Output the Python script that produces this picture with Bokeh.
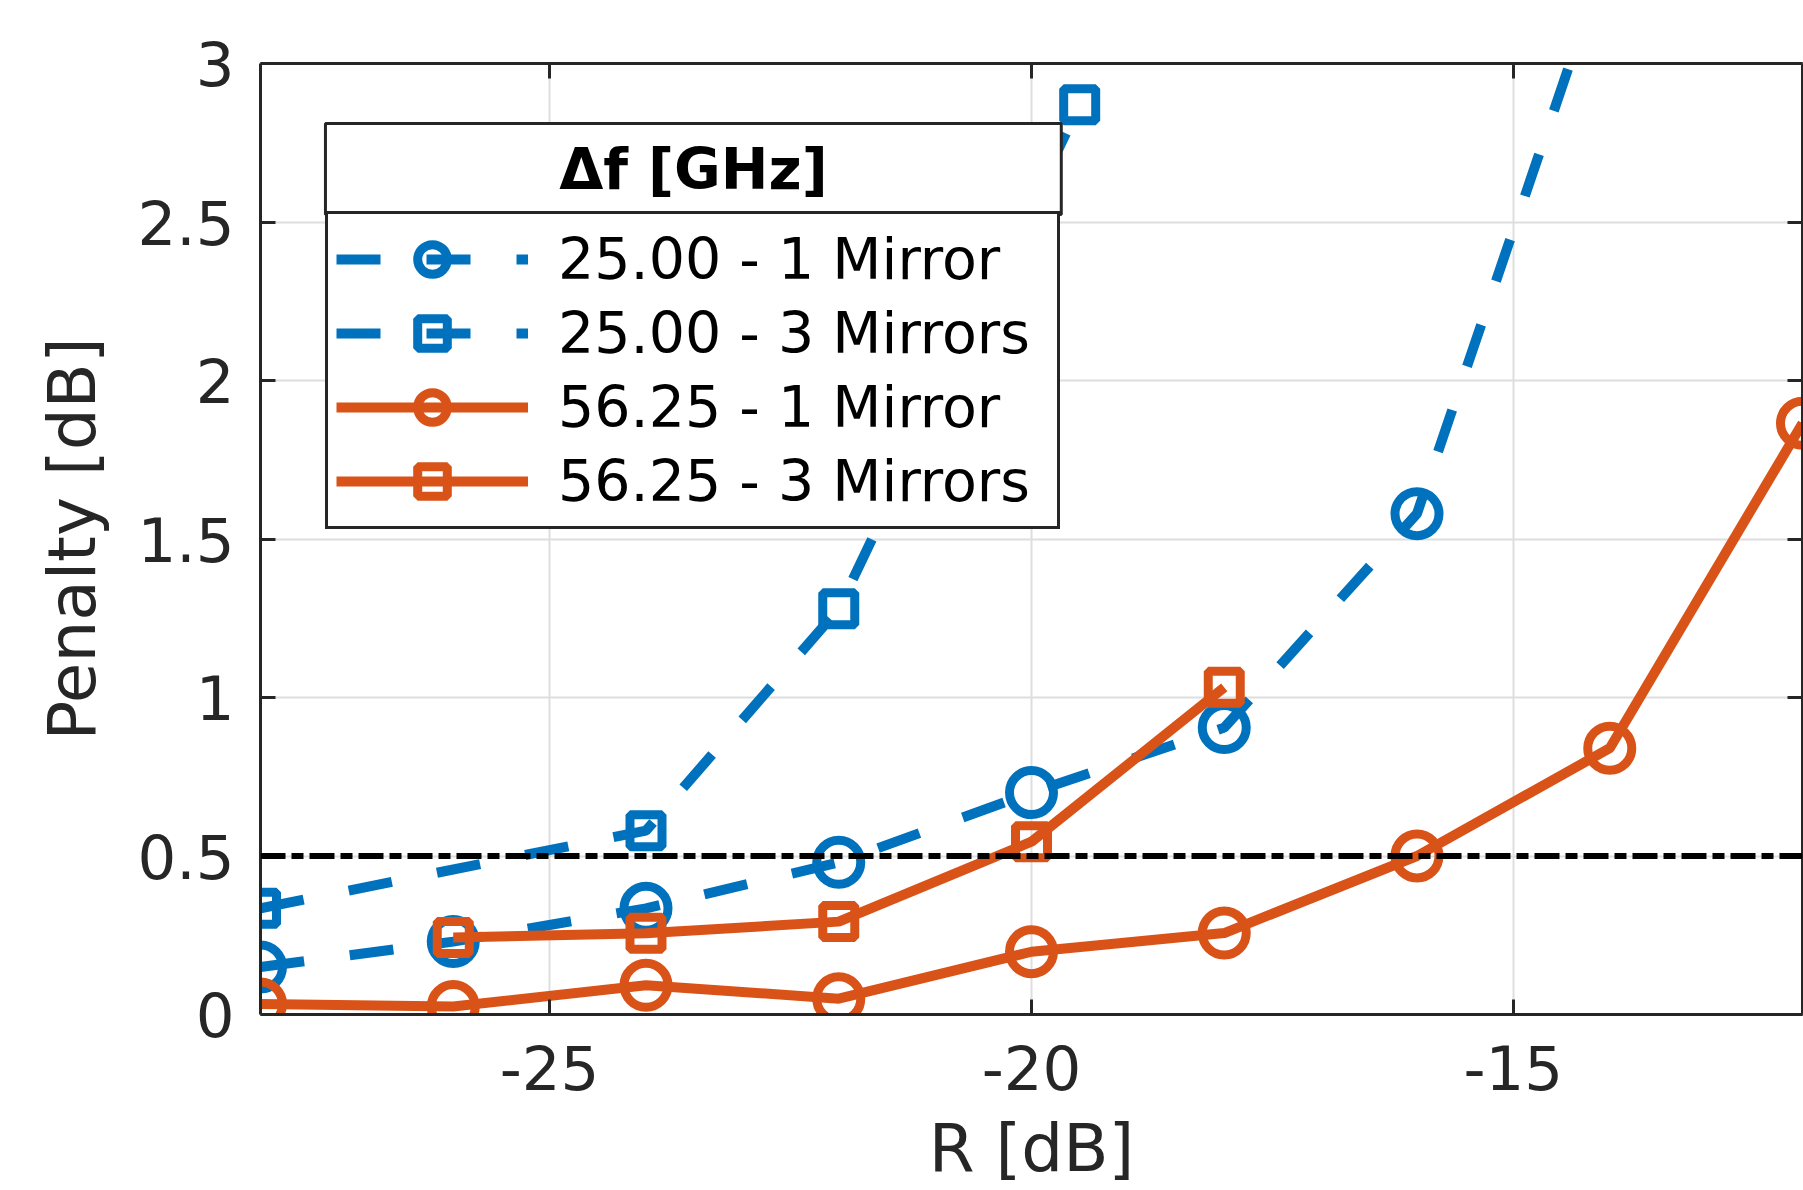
from bokeh.plotting import figure
from bokeh.models import (Range1d, FixedTicker, NumeralTickFormatter, LinearAxis, Span,
                          Legend, LegendItem, BoxAnnotation, Label)
from bokeh.embed import file_html
from bokeh.resources import INLINE

# ---------------- data ----------------
r_25_1 = [-28, -26, -24, -22, -20, -18, -16, -14]
p_25_1 = [0.15, 0.23, 0.335, 0.48, 0.70, 0.905, 1.58, 3.37]

r_25_3 = [-28, -24, -22, -19.5]
p_25_3 = [0.335, 0.58, 1.28, 2.87]

r_56_1 = [-28, -26, -24, -22, -20, -18, -16, -14, -12]
p_56_1 = [0.033, 0.025, 0.092, 0.05, 0.198, 0.257, 0.50, 0.84, 1.865]

r_56_3 = [-26, -24, -22, -20, -18]
p_56_3 = [0.243, 0.256, 0.293, 0.545, 1.032]

series_labels = ["25.00 - 1 Mirror", "25.00 - 3 Mirrors",
                 "56.25 - 1 Mirror", "56.25 - 3 Mirrors"]
legend_title = "\u0394f [GHz]"
x_ticks = [-25, -20, -15]
y_ticks = [0, 0.5, 1, 1.5, 2, 2.5, 3]
threshold = 0.5

# ---------------- style ----------------
BLUE = "#0072BD"
ORANGE = "#D95319"
AX = "#262626"
GRID = "#DEDEDE"
FONT = "DejaVu Sans"

p = figure(width=1803, height=1190,
           x_range=Range1d(-28, -12), y_range=Range1d(0, 3),
           output_backend="svg", toolbar_location=None,
           min_border_left=260, min_border_right=1,
           min_border_top=63, min_border_bottom=176,
           x_axis_label="R [dB]", y_axis_label="Penalty [dB]")
p.outline_line_color = None
p.background_fill_color = "white"
p.border_fill_color = "white"


def style_axis(ax, ticks, show_labels=True):
    ax.ticker = FixedTicker(ticks=ticks)
    ax.formatter = NumeralTickFormatter(format="0.[0]")
    ax.axis_line_color = AX
    ax.axis_line_width = 3
    ax.major_tick_line_color = AX
    ax.major_tick_line_width = 3
    ax.major_tick_in = 15
    ax.major_tick_out = 0
    ax.minor_tick_line_color = None
    if show_labels:
        ax.major_label_text_font = FONT
        ax.major_label_text_font_size = "61px"
        ax.major_label_text_color = AX
        ax.axis_label_text_font = FONT
        ax.axis_label_text_font_style = "normal"
        ax.axis_label_text_color = AX
    else:
        ax.major_label_text_font_size = "0px"
        ax.major_label_standoff = 0
        ax.major_label_text_color = None


style_axis(p.xaxis[0], x_ticks)
p.xaxis[0].major_label_standoff = 30
p.xaxis[0].axis_label_standoff = 17
p.xaxis[0].axis_label_text_font_size = "66px"
style_axis(p.yaxis[0], y_ticks)
p.yaxis[0].major_label_standoff = 26
p.yaxis[0].axis_label_standoff = 23
p.yaxis[0].axis_label_text_font_size = "66px"

top_ax = LinearAxis()
style_axis(top_ax, x_ticks, show_labels=False)
p.add_layout(top_ax, "above")
right_ax = LinearAxis()
style_axis(right_ax, y_ticks, show_labels=False)
p.add_layout(right_ax, "right")

p.xgrid.ticker = FixedTicker(ticks=x_ticks)
p.ygrid.ticker = FixedTicker(ticks=y_ticks)
for g in (p.xgrid[0], p.ygrid[0]):
    g.grid_line_color = GRID
    g.grid_line_width = 2

# ---------------- series ----------------
specs = [
    (r_25_1, p_25_1, BLUE, "44 46", "circle", 44),
    (r_25_3, p_25_3, BLUE, "44 46", "square", 32),
    (r_56_1, p_56_1, ORANGE, "solid", "circle", 44),
    (r_56_3, p_56_3, ORANGE, "solid", "square", 32),
]
items = []
for (xs, ys, col, dash, mk, sz), lab in zip(specs, series_labels):
    ln = p.line(xs, ys, line_color=col, line_width=10, line_dash=dash)
    sc = p.scatter(xs, ys, marker=mk, size=sz, line_color=col, line_width=9,
                   fill_color=None)
    items.append(LegendItem(label=lab, renderers=[ln, sc]))

p.add_layout(Span(location=threshold, dimension="width", line_color="black",
                  line_width=6, line_dash="25 6 12 6"))

# ---------------- legend ----------------
legend = Legend(items=items, location=(65, 485), orientation="vertical",
                padding=8, spacing=0, margin=0,
                glyph_width=192, glyph_height=74, label_height=74,
                label_width=491, label_standoff=30,
                label_text_font=FONT, label_text_font_size="57px",
                label_text_color="black",
                border_line_color=AX, border_line_width=3, border_line_alpha=1,
                background_fill_color="white", background_fill_alpha=1)
p.add_layout(legend, "center")

title_box = BoxAnnotation(left=-27.326, right=-19.691, top=2.811, bottom=2.524,
                          fill_color="white", fill_alpha=1,
                          line_color=AX, line_width=3, line_alpha=1)
p.add_layout(title_box)
p.add_layout(Label(x=-23.508, y=2.666, text=legend_title, text_align="center",
                   text_baseline="middle", text_font=FONT, text_font_size="57px",
                   text_font_style="bold", text_color="black"))

open("out.html", "w").write(file_html(p, INLINE))
